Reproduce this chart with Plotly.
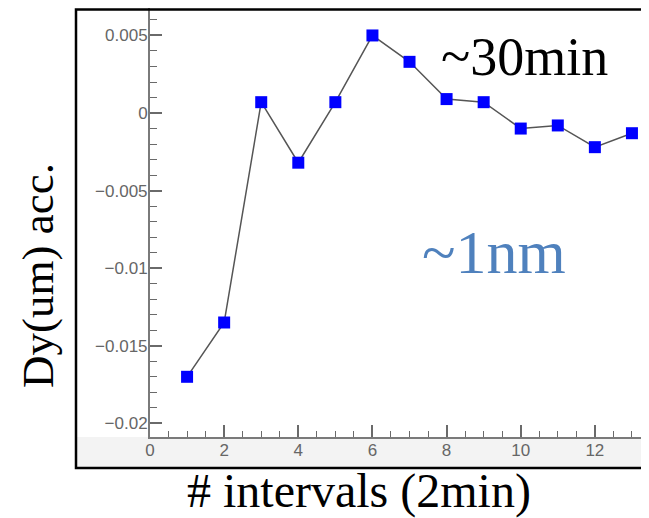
import plotly.graph_objects as go

intervals = [1, 2, 3, 4, 5, 6, 7, 8, 9, 10, 11, 12, 13]
dy_acc = [-0.0170, -0.0135, 0.0007, -0.0032, 0.0007, 0.0050, 0.0033,
          0.0009, 0.0007, -0.0010, -0.0008, -0.0022, -0.0013]

x_ticks = [0, 2, 4, 6, 8, 10, 12]
y_ticks = [0.005, 0, -0.005, -0.01, -0.015, -0.02]
y_tick_text = ["0.005", "0", "\u22120.005", "\u22120.01", "\u22120.015", "\u22120.02"]

# page has an 8px body margin; figure sized to fit the 649x518 window
OFF = 8
W, H = 649 - OFF, 518 - OFF
# plot area edges in page pixels
L, R, T, B = 150, 649, 8, 437


def px(x):
    return (x - L) / (R - L)


def py(y):
    return (B - y) / (B - T)


fig = go.Figure()
fig.add_trace(go.Scatter(
    x=intervals, y=dy_acc, mode="lines+markers",
    line=dict(color="#555555", width=1.5),
    marker=dict(symbol="square", size=12, color="#0000ff"),
    showlegend=False,
))

axis_common = dict(
    showline=True, linecolor="#7a7a7a", linewidth=2,
    ticks="inside", tickcolor="#6a6a6a", tickwidth=1.5,
    showgrid=False, zeroline=False,
    tickfont=dict(family="Liberation Sans, Arial", size=17, color="#666666"),
)

fig.update_xaxes(
    range=[0, 13.46], tickvals=x_ticks, ticklen=12, ticklabelstandoff=-3,
    minor=dict(ticks="inside", dtick=0.5, ticklen=6, tickcolor="#6a6a6a", tickwidth=1.2),
    **axis_common,
)
fig.update_yaxes(
    range=[-0.02088, 0.00677], tickvals=y_ticks, ticktext=y_tick_text, ticklen=12,
    ticklabelstandoff=-3,
    minor=dict(ticks="inside", dtick=0.001, ticklen=7, tickcolor="#6a6a6a", tickwidth=1.2),
    **axis_common,
)

serif = "Liberation Serif, Times New Roman, serif"
fig.update_layout(
    width=W, height=H,
    margin=dict(l=L - OFF, r=649 - R, t=T - OFF, b=518 - B, pad=0),
    paper_bgcolor="white", plot_bgcolor="rgba(0,0,0,0)",
    shapes=[
        dict(type="rect", xref="paper", yref="paper",
             x0=px(76), x1=px(660), y0=py(468), y1=py(437),
             fillcolor="#f3f3f3", line=dict(width=0), layer="below"),
        dict(type="rect", xref="paper", yref="paper",
             x0=px(76), x1=px(662), y0=py(468), y1=py(9.5),
             fillcolor="rgba(0,0,0,0)", line=dict(color="black", width=2.5)),
    ],
    annotations=[
        dict(text="Dy(um) acc.", xref="paper", yref="paper",
             x=px(38), y=py(276), textangle=-90, showarrow=False,
             xanchor="center", yanchor="middle",
             font=dict(family=serif, size=45, color="black")),
        dict(text="# intervals (2min)", xref="paper", yref="paper",
             x=px(359), y=py(491), showarrow=False,
             xanchor="center", yanchor="middle",
             font=dict(family=serif, size=48, color="black")),
        dict(text="~30min", xref="paper", yref="paper",
             x=px(524), y=py(57), showarrow=False,
             xanchor="center", yanchor="middle",
             font=dict(family=serif, size=54, color="black")),
        dict(text="~1nm", xref="paper", yref="paper",
             x=px(494), y=py(252), showarrow=False,
             xanchor="center", yanchor="middle",
             font=dict(family=serif, size=62, color="#4f81bd")),
    ],
)

fig.write_html("out.html")
